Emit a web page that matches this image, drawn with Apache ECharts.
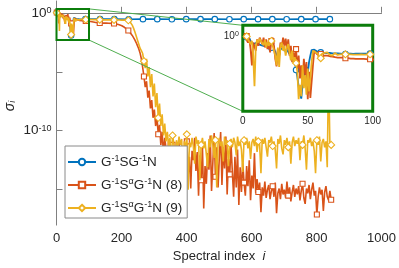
<!DOCTYPE html>
<html><head><meta charset="utf-8">
<script src="https://cdn.jsdelivr.net/npm/echarts@6/dist/echarts.min.js"></script>
<style>html,body{margin:0;padding:0;background:#fff}#c{width:399px;height:268px}</style>
</head><body><div id="c"></div>
<script>
// ---------- data (values are log10 of sigma_i) ----------
const xTickStep = 200;
const yTickExps = [-15, -10, -5, 0];
const yLabelExps = [-10, 0];
const zoomX = [0, 100];
const zoomY = [-2.31, 0.33];
const insetYLabelExps = [0];
const seriesNames = ['G-1SG-1N', 'G-1SαG-1N (8)', 'G-1SαG-1N (9)'];

// head: spectral index 1..100 (one value per index)
const blueHead = [
 0.02,0.0,-0.04,-0.08,-0.06,-0.15,-0.12,-0.25,-0.2,-0.22,
 -0.18,-0.25,-0.2,-0.28,-0.22,-0.3,-0.26,-0.32,-0.28,-0.34,
 -0.3,-0.36,-0.32,-0.38,-0.5,-0.7,-0.45,-0.6,-0.4,-0.42,
 -0.38,-0.45,-0.5,-0.42,-0.48,-0.55,-0.6,-0.55,-0.7,-0.8,
 -1.04,-1.25,-1.55,-1.75,-1.92,-1.5,-1.1,-1.3,-0.95,-1.15,
 -0.8,-0.6,-0.43,-0.4,-0.42,-0.45,-0.47,-0.48,-0.5,-0.5,
 -0.51,-0.5,-0.52,-0.51,-0.52,-0.53,-0.52,-0.53,-0.53,-0.54,
 -0.53,-0.54,-0.53,-0.54,-0.54,-0.54,-0.55,-0.54,-0.55,-0.54,
 -0.54,-0.55,-0.54,-0.54,-0.55,-0.54,-0.54,-0.55,-0.54,-0.54,
 -0.54,-0.55,-0.54,-0.54,-0.54,-0.55,-0.54,-0.54,-0.54,-0.54];
const redHead = [
 0.02,-0.05,0.0,-0.2,-0.1,-0.4,-0.9,-0.2,-0.15,-0.45,
 -0.1,-0.3,-0.05,-0.02,-0.25,-0.05,-0.35,-0.1,-0.4,-0.2,
 -0.5,-0.15,-0.05,-0.3,-0.7,-0.93,-0.4,-0.6,-0.2,-0.35,
 -0.05,-0.3,-0.08,-0.4,-0.1,-0.6,-0.3,-0.8,-0.5,-0.7,
 -0.4,-1.0,-0.6,-1.3,-0.9,-1.5,-0.7,-1.2,-0.8,-1.94,
 -1.1,-1.9,-1.94,-0.9,-0.45,-0.5,-0.55,-0.5,-0.6,-0.55,
 -0.62,-0.58,-0.6,-0.62,-0.6,-0.63,-0.62,-0.64,-0.63,-0.64,
 -0.65,-0.64,-0.66,-0.65,-0.66,-0.67,-0.66,-0.67,-0.68,-0.67,
 -0.68,-0.68,-0.69,-0.68,-0.69,-0.69,-0.7,-0.69,-0.7,-0.7,
 -0.7,-0.71,-0.7,-0.71,-0.71,-0.71,-0.72,-0.71,-0.72,-0.72];
const yellowHead = [
 0.0,-0.02,-0.01,-0.1,-0.05,-0.25,-0.15,-0.6,-1.54,-0.3,
 -0.12,-0.2,-0.08,-0.15,-0.1,-0.28,-0.12,-0.35,-0.18,-0.3,
 -0.2,-0.15,-0.3,-0.25,-0.6,-0.9,-0.35,-0.95,-0.3,-0.2,
 -0.45,-0.3,-0.6,-0.35,-0.25,-0.5,-0.75,-0.45,-0.85,-0.65,
 -0.83,-1.1,-1.94,-1.5,-1.85,-0.9,-1.6,-1.2,-1.8,-1.0,
 -1.7,-1.3,-0.8,-0.45,-0.4,-0.5,-0.45,-0.55,-0.73,-0.68,
 -0.55,-0.5,-0.52,-0.55,-0.5,-0.53,-0.58,-0.55,-0.6,-0.55,
 -0.52,-0.56,-0.58,-0.55,-0.56,-0.55,-0.56,-0.56,-0.56,-0.56,
 -0.56,-0.57,-0.56,-0.56,-0.57,-0.56,-0.57,-0.56,-0.57,-0.57,
 -0.56,-0.57,-0.57,-0.56,-0.57,-0.57,-0.57,-0.56,-0.57,-0.57];

// blue tail: flat, read at its marker indices
const blueTailIdx = [134,178,222,266,310,355,399,443,487,532,576,620,664,708,753,797,841];
const blueTail = [-0.54,-0.54,-0.55,-0.54,-0.54,-0.55,-0.54,-0.54,-0.54,-0.55,-0.54,-0.54,-0.54,-0.55,-0.54,-0.54,-0.54];

// red / yellow tail: spectral index 101, 105, ..., 845 (every 4th index)
const redTail = [
 -0.72,-0.74,-0.76,-0.78,-0.8,-0.82,-0.84,-0.85,-0.86,-0.87,
 -0.87,-0.88,-0.88,-0.88,-0.89,-0.89,-0.89,-0.9,-0.9,-0.91,
 -0.93,-0.95,-0.98,-1.01,-1.05,-1.1,-1.16,-1.23,-1.31,-1.4,
 -1.5,-1.62,-1.76,-1.92,-2.1,-2.3,-2.52,-2.78,-3.05,-3.4,
 -3.9,-4.6,-5.4,-6.3,-5.8,-7.2,-6.6,-8.1,-7.4,-8.9,
 -8.2,-9.6,-8.8,-10.3,-9.5,-11.2,-10.1,-12.0,-10.6,-11.5,
 -12.4,-10.8,-11.9,-13.6,-11.2,-12.3,-15.8,-11.6,-12.8,-11.0,
 -13.1,-12.0,-16.2,-11.5,-12.6,-10.9,-13.8,-12.2,-14.9,-11.7,
 -12.5,-10.6,-13.4,-11.8,-15.5,-12.1,-14.2,-11.3,-16.6,-13.0,
 -14.5,-11.9,-13.3,-10.4,-15.1,-12.7,-10.2,-13.9,-11.4,-14.8,
 -12.2,-10.1,-14.6,-11.5,-13.2,-10.5,-15.4,-12.4,-13.7,-11.2,
 -13.5,-15.6,-12.2,-14.8,-11.6,-16.3,-13.1,-15.2,-12.7,-14.4,
 -15.5,-13.0,-14.7,-12.5,-15.9,-13.8,-14.9,-11.9,-15.3,-14.1,
 -15.2,-14.4,-16.9,-14.8,-15.5,-14.3,-15.7,-15.0,-14.6,-15.8,
 -15.1,-14.7,-15.6,-14.4,-17.0,-15.3,-14.9,-15.8,-14.5,-15.4,
 -15.0,-15.7,-14.3,-15.5,-14.8,-16.0,-15.2,-14.6,-15.6,-14.9,
 -15.4,-14.7,-15.9,-15.1,-14.5,-15.7,-16.2,-14.9,-15.3,-14.6,
 -15.8,-15.0,-14.4,-15.5,-15.1,-17.1,-15.6,-14.8,-15.4,-15.0,
 -16.8,-15.2,-14.7,-15.6,-15.9,-15.1,-15.85];
const yellowTail = [
 -0.57,-0.57,-0.58,-0.58,-0.58,-0.58,-0.59,-0.59,-0.59,-0.59,
 -0.59,-0.6,-0.6,-0.6,-0.6,-0.6,-0.6,-0.6,-0.61,-0.61,
 -0.61,-0.61,-0.61,-0.61,-0.62,-0.62,-0.62,-0.62,-0.63,-0.63,
 -0.64,-0.72,-0.86,-1.05,-1.3,-1.6,-1.95,-2.3,-2.65,-3.0,
 -3.2,-3.45,-4.1,-4.7,-3.9,-5.4,-4.6,-6.3,-5.2,-7.1,
 -6.0,-8.0,-6.8,-8.9,-7.7,-9.6,-8.6,-10.4,-9.4,-10.9,
 -10.1,-11.3,-10.6,-12.9,-10.4,-11.1,-14.6,-10.8,-11.5,-10.5,
 -11.2,-10.7,-13.4,-10.9,-11.6,-10.3,-15.0,-11.0,-11.4,-10.6,
 -11.3,-12.8,-10.5,-11.1,-10.8,-14.2,-11.2,-10.6,-11.5,-10.9,
 -11.0,-13.1,-10.7,-11.4,-10.4,-11.2,-12.3,-10.8,-14.8,-11.1,
 -10.6,-11.3,-10.9,-12.6,-10.5,-11.2,-10.8,-13.0,-11.1,-10.7,
 -11.4,-10.6,-11.0,-12.1,-10.5,-11.3,-10.9,-11.6,-13.5,-10.8,
 -11.2,-10.6,-11.5,-10.9,-12.4,-11.0,-10.7,-11.3,-10.5,-11.8,
 -10.9,-11.2,-13.6,-10.7,-11.1,-10.6,-11.4,-12.2,-10.8,-11.0,
 -10.5,-11.3,-10.9,-11.6,-13.2,-10.7,-11.1,-10.4,-11.5,-12.0,
 -10.8,-11.2,-10.6,-11.4,-10.9,-12.8,-11.0,-10.5,-11.3,-10.8,
 -11.1,-10.6,-12.5,-10.9,-11.2,-10.4,-11.5,-13.3,-10.8,-11.0,
 -10.6,-11.3,-10.9,-11.7,-13.6,-10.8,-11.2,-10.5,-12.6,-11.0,
 -10.7,-11.4,-10.9,-13.1,-4.5,-11.0,-11.2];

// ---------- build ----------
const FONT = "'Liberation Sans', Arial, Helvetica, sans-serif";
const TXT = '#262626';
const AX = '#808080';
const GREEN = '#0b7d0b';
const colors = ['#0072BD', '#D95319', '#EDB120'];
const symbols = ['circle', 'rect', 'diamond'];
const symSizes = [5.5, 5, 7];

const headIdx = blueHead.map((_, j) => j + 1);
const tailIdx = redTail.map((_, k) => 101 + 4 * k);

function markerTargets(n) { const t = []; for (let k = 0; k < 20; k++) t.push(Math.round(1 + k * (n - 1) / 19)); return t; }
function nearestSet(xs, targets) {
  const s = new Set();
  targets.forEach(t => { let best = 0, bd = Infinity; xs.forEach((x, j) => { const d = Math.abs(x - t); if (d < bd) { bd = d; best = j; } }); s.add(best); });
  return s;
}
function build(xs, ys, set) { return xs.map((x, j) => set.has(j) ? [x, ys[j]] : { value: [x, ys[j]], symbol: 'none' }); }

const mainX = [headIdx.concat(blueTailIdx), headIdx.concat(tailIdx), headIdx.concat(tailIdx)];
const mainY = [blueHead.concat(blueTail), redHead.concat(redTail), yellowHead.concat(yellowTail)];
const insetX = [headIdx.concat([blueTailIdx[0]]), headIdx.concat([tailIdx[0]]), headIdx.concat([tailIdx[0]])];
const insetY = [blueHead.concat([blueTail[0]]), redHead.concat([redTail[0]]), yellowHead.concat([yellowTail[0]])];
const insetTargets = [3, 22, 41, 60, 79, 98];

const series = [];
for (let s = 0; s < 3; s++) {
  const xs = mainX[s], ys = mainY[s];
  const set = nearestSet(xs, markerTargets(xs[xs.length - 1]));
  series.push({
    name: seriesNames[s], type: 'line', xAxisIndex: 0, yAxisIndex: 0,
    data: build(xs, ys, set), symbol: symbols[s], symbolSize: symSizes[s],
    showSymbol: true, showAllSymbol: true, animation: false, z: 2 + s,
    lineStyle: { color: colors[s], width: 1.6 }, color: colors[s],
    itemStyle: { color: '#fff', borderColor: colors[s], borderWidth: 1.1 },
    emphasis: { disabled: true },
    markArea: s === 2 ? { silent: true, z: 6,
      itemStyle: { color: 'rgba(0,0,0,0)', borderColor: GREEN, borderWidth: 2 },
      data: [[{ coord: [zoomX[0], zoomY[1]] }, { coord: [zoomX[1], zoomY[0]] }]] } : undefined
  });
}
for (let s = 0; s < 3; s++) {
  const xs = insetX[s], ys = insetY[s];
  const set = nearestSet(xs, insetTargets);
  series.push({
    name: seriesNames[s], type: 'line', xAxisIndex: 1, yAxisIndex: 1,
    data: build(xs, ys, set), symbol: symbols[s], symbolSize: symSizes[s],
    showSymbol: true, showAllSymbol: true, animation: false, z: 12 + s,
    lineStyle: { color: colors[s], width: 1.8 }, color: colors[s],
    itemStyle: { color: '#fff', borderColor: colors[s], borderWidth: 1.1 },
    emphasis: { disabled: true }
  });
}

const legendRich = {
  'G-1SG-1N': 'G{s|-1}SG{s|-1}N',
  'G-1SαG-1N (8)': 'G{s|-1}S{s|α}G{s|-1}N (8)',
  'G-1SαG-1N (9)': 'G{s|-1}S{s|α}G{s|-1}N (9)'
};
const supStyle = (fs) => ({ fontSize: fs, lineHeight: fs, verticalAlign: 'top', fontFamily: FONT, color: TXT });

const option = {
  animation: false,
  backgroundColor: '#fff',
  textStyle: { fontFamily: FONT },
  grid: [
    { left: 56.5, right: 16, top: 1, bottom: 41.5 },
    { left: 242.8, top: 25.3, width: 129.9, height: 86, show: true, backgroundColor: '#fff',
      borderColor: GREEN, borderWidth: 3, z: 10 }
  ],
  xAxis: [
    { type: 'value', gridIndex: 0, min: 0, max: 1000, interval: xTickStep,
      axisLine: { show: true, lineStyle: { color: AX, width: 1 } },
      axisTick: { show: true, inside: true, length: 6, lineStyle: { color: AX } },
      splitLine: { show: false },
      axisLabel: { fontSize: 13, color: TXT, margin: 7, fontFamily: FONT, formatter: v => String(v) },
      name: '{n|Spectral index  }{i|i}', nameLocation: 'middle', nameGap: 23,
      nameTextStyle: { rich: { n: { fontSize: 13, color: TXT, fontFamily: FONT }, i: { fontSize: 13, color: TXT, fontStyle: 'italic', fontFamily: FONT } } } },
    { type: 'value', gridIndex: 1, min: zoomX[0], max: zoomX[1], interval: 50,
      axisLine: { show: false }, axisTick: { show: false }, splitLine: { show: false },
      axisLabel: { fontSize: 10, color: TXT, margin: 5, fontFamily: FONT, formatter: v => String(v) } }
  ],
  yAxis: [
    { type: 'value', gridIndex: 0, min: -18, max: 1,
      axisLine: { show: true, lineStyle: { color: AX, width: 1 } },
      axisTick: { show: true, inside: true, length: 6, customValues: yTickExps, lineStyle: { color: AX } },
      splitLine: { show: false },
      axisLabel: { customValues: yLabelExps, margin: 5, formatter: v => '{b|10}{s|' + v + '}',
        rich: { b: { fontSize: 13.5, color: TXT, fontFamily: FONT }, s: supStyle(9) } } },
    { type: 'value', gridIndex: 1, min: zoomY[0], max: zoomY[1],
      axisLine: { show: false }, axisTick: { show: false }, splitLine: { show: false },
      axisLabel: { customValues: insetYLabelExps, margin: 4, formatter: v => '{b|10}{s|' + v + '}',
        rich: { b: { fontSize: 10, color: TXT, fontFamily: FONT }, s: supStyle(7) } } }
  ],
  legend: {
    data: seriesNames, left: 65, top: 146, orient: 'vertical',
    padding: [8, 5, 2, 2], itemGap: 7, itemWidth: 28, itemHeight: 8,
    backgroundColor: '#fff', borderColor: '#8a8a8a', borderWidth: 1, borderRadius: 0,
    selectedMode: false, z: 20,
    formatter: n => legendRich[n],
    textStyle: { fontSize: 13.5, lineHeight: 16, color: TXT, fontFamily: FONT, rich: { s: supStyle(9) } }
  },
  series: series
};

const chart = echarts.init(document.getElementById('c'), null, { renderer: 'canvas' });
chart.setOption(option);

const p1 = chart.convertToPixel({ gridIndex: 0 }, [zoomX[1], zoomY[1]]);
const p2 = chart.convertToPixel({ gridIndex: 1 }, [zoomX[0], zoomY[1]]);
const p3 = chart.convertToPixel({ gridIndex: 0 }, [zoomX[1], zoomY[0]]);
const p4 = chart.convertToPixel({ gridIndex: 1 }, [zoomX[0], zoomY[0]]);
chart.setOption({
  graphic: [
    { type: 'line', z: 5, silent: true, shape: { x1: p1[0], y1: p1[1], x2: p2[0], y2: p2[1] }, style: { stroke: '#4fae4f', lineWidth: 1 } },
    { type: 'line', z: 5, silent: true, shape: { x1: p3[0], y1: p3[1], x2: p4[0], y2: p4[1] }, style: { stroke: '#4fae4f', lineWidth: 1 } },
    { type: 'text', z: 20, silent: true, x: 10, y: 106, rotation: Math.PI / 2,
      style: { text: '{s|σ}{i|i}', align: 'center', verticalAlign: 'middle',
        rich: { s: { fontSize: 14, fontStyle: 'italic', fontFamily: FONT, fill: TXT },
                i: { fontSize: 9, fontStyle: 'italic', fontFamily: FONT, fill: TXT, verticalAlign: 'bottom', lineHeight: 9 } } } }
  ]
});
</script>
</body></html>
